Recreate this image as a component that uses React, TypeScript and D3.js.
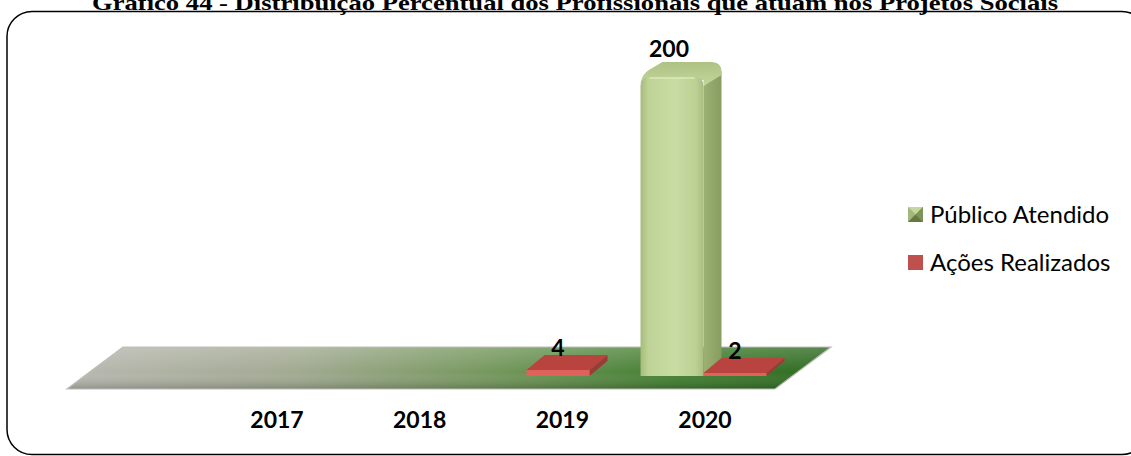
import React, { useEffect } from "react";
import * as d3 from "d3";

const categories = ["2017", "2018", "2019", "2020"];
const seriesNames = ["Público Atendido", "Ações Realizados"];
const publicoAtendido = [0, 0, 0, 200];
const acoesRealizados = [0, 0, 4, 2];
const titleText =
  "Gráfico 44 - Distribuição Percentual dos Profissionais que atuam nos Projetos Sociais";

const W = 1131;
const H = 456;

function roundedTopFront(x0: number, x1: number, yTop: number, yBot: number, r: number) {
  const p = d3.path();
  p.moveTo(x0, yBot);
  p.lineTo(x0, yTop + r);
  p.quadraticCurveTo(x0, yTop, x0 + r, yTop);
  p.lineTo(x1 - r, yTop);
  p.quadraticCurveTo(x1, yTop, x1, yTop + r);
  p.lineTo(x1, yBot);
  p.closePath();
  return p.toString();
}

export default function App() {
  useEffect(() => {
    document.body.style.margin = "0";
  }, []);

  const floorX0 = 67;
  const floorX1 = 775;
  const floorFrontY = 389;
  const floorDx = 56;
  const floorDy = 42;

  const x = d3.scaleBand<string>().domain(categories).range([floorX0, floorX1]);
  const sub = d3
    .scaleBand<string>()
    .domain(seriesNames)
    .range([0, x.bandwidth()])
    .paddingOuter(0.405);
  const y = d3.scaleLinear().domain([0, 200]).range([376, 77]);
  const labelX = d3.scalePoint<string>().domain(categories).range([277, 705]);

  const frontShift = 17;
  const bdx = 18;
  const bdy = 15;

  const floorPts = [
    [floorX0, floorFrontY],
    [floorX1, floorFrontY],
    [floorX1 + floorDx, floorFrontY - floorDy],
    [floorX0 + floorDx, floorFrontY - floorDy],
  ];
  const floorPath = d3.line()(floorPts as [number, number][]) + "Z";

  const greenBars = categories
    .map((c, i) => ({ c, v: publicoAtendido[i] }))
    .filter((d) => d.v > 0);
  const redBars = categories
    .map((c, i) => ({ c, v: acoesRealizados[i] }))
    .filter((d) => d.v > 0);

  return (
    <svg
      width={W}
      height={H}
      style={{ position: "absolute", left: 0, top: 0, background: "#fff" }}
    >
      <defs>
        <linearGradient id="floorH" x1="0" x2="1" y1="0" y2="0">
          <stop offset="0%" stopColor="#b8b8b0" />
          <stop offset="30%" stopColor="#a2aa92" />
          <stop offset="55%" stopColor="#76985e" />
          <stop offset="80%" stopColor="#427f31" />
          <stop offset="100%" stopColor="#2f6b22" />
        </linearGradient>
        <linearGradient id="floorV" x1="0" x2="0" y1="0" y2="1">
          <stop offset="0%" stopColor="#ffffff" stopOpacity="0.2" />
          <stop offset="60%" stopColor="#ffffff" stopOpacity="0" />
          <stop offset="100%" stopColor="#000000" stopOpacity="0.2" />
        </linearGradient>
        <linearGradient id="greenFront" x1="0" x2="1" y1="0" y2="0">
          <stop offset="0%" stopColor="#a7bb7b" />
          <stop offset="12%" stopColor="#bfd296" />
          <stop offset="55%" stopColor="#c9dca3" />
          <stop offset="88%" stopColor="#bcd093" />
          <stop offset="100%" stopColor="#a9bd80" />
        </linearGradient>
        <linearGradient id="greenSide" x1="0" x2="1" y1="0" y2="0">
          <stop offset="0%" stopColor="#9cb173" />
          <stop offset="100%" stopColor="#879c60" />
        </linearGradient>
        <linearGradient id="greenTop" x1="0" x2="0" y1="0" y2="1">
          <stop offset="0%" stopColor="#aec284" />
          <stop offset="100%" stopColor="#c3d69c" />
        </linearGradient>
        <linearGradient id="legGreen" x1="0" x2="1" y1="0" y2="1">
          <stop offset="0%" stopColor="#c4d79d" />
          <stop offset="100%" stopColor="#6f8450" />
        </linearGradient>
      </defs>

      {/* title */}
      <text
        x={575}
        y={10}
        textAnchor="middle"
        fontFamily="'Liberation Serif', 'Times New Roman', serif"
        fontWeight="bold"
        fontSize={22}
        textLength={966}
        lengthAdjust="spacingAndGlyphs"
        fill="#000"
      >
        {titleText}
      </text>

      {/* frame */}
      <rect
        x={7}
        y={11.5}
        width={1140}
        height={443}
        rx={25}
        ry={25}
        fill="none"
        stroke="#000"
        strokeWidth={1.5}
      />

      {/* floor */}
      <path d={floorPath} fill="url(#floorH)" />
      <path d={floorPath} fill="url(#floorV)" stroke="#bdbdb8" strokeWidth={1.2} />

      {/* green bars (Público Atendido) */}
      {greenBars.map((d) => {
        const x0 = (x(d.c) as number) + (sub(seriesNames[0]) as number) + frontShift;
        const x1 = x0 + sub.bandwidth();
        const yT = y(d.v);
        const yB = y(0);
        const r = 9;
        const side = d3.path();
        side.moveTo(x1, yB);
        side.lineTo(x1, yT + r);
        side.lineTo(x1 + bdx, yT - bdy + r);
        side.lineTo(x1 + bdx, yB - bdy);
        side.closePath();
        const top = d3.path();
        top.moveTo(x0, yT + 6);
        top.quadraticCurveTo(x0 + 2, yT - 4, x0 + 10, yT - 8);
        top.lineTo(x0 + bdx + 4, yT - bdy);
        top.lineTo(x1 + bdx - 10, yT - bdy);
        top.quadraticCurveTo(x1 + bdx, yT - bdy, x1 + bdx, yT - bdy + 10);
        top.lineTo(x1 + bdx, yT - bdy + r + 4);
        top.lineTo(x1, yT + r);
        top.lineTo(x1, yT + 3);
        top.closePath();
        return (
          <g key={"g" + d.c}>
            <path d={side.toString()} fill="url(#greenSide)" />
            <path d={top.toString()} fill="url(#greenTop)" />
            <path d={roundedTopFront(x0, x1, yT, yB, r)} fill="url(#greenFront)" />
            <path
              d={`M${x0 + r},${yT + 1}L${x1 - r},${yT + 1}`}
              stroke="#d8e8b8"
              strokeWidth={1.5}
              fill="none"
            />
            <text
              x={(x0 + x1) / 2 - 3}
              y={yT - bdy - 5}
              textAnchor="middle"
              fontFamily="Lato, 'Open Sans', sans-serif"
              fontWeight="bold"
              fontSize={23}
              fill="#000"
            >
              {d.v}
            </text>
          </g>
        );
      })}

      {/* red bars (Ações Realizados) */}
      {redBars.map((d) => {
        const x0 = (x(d.c) as number) + (sub(seriesNames[1]) as number) + frontShift;
        const x1 = x0 + sub.bandwidth();
        const yT = y(d.v);
        const yB = y(0);
        const top = d3.line()([
          [x0, yT],
          [x1, yT],
          [x1 + bdx, yT - bdy],
          [x0 + bdx, yT - bdy],
        ] as [number, number][]) + "Z";
        const side = d3.line()([
          [x1, yT],
          [x1 + bdx, yT - bdy],
          [x1 + bdx, yB - bdy],
          [x1, yB],
        ] as [number, number][]) + "Z";
        return (
          <g key={"r" + d.c}>
            <path d={side} fill="#9c3a37" />
            <path d={top} fill="#b9443f" />
            <rect x={x0} y={yT} width={x1 - x0} height={yB - yT} fill="#e0625c" />
            <text
              x={(x0 + x1) / 2}
              y={yT - bdy + 1}
              textAnchor="middle"
              fontFamily="Lato, 'Open Sans', sans-serif"
              fontWeight="bold"
              fontSize={23}
              fill="#000"
            >
              {d.v}
            </text>
          </g>
        );
      })}

      {/* category labels */}
      {categories.map((c) => (
        <text
          key={c}
          x={labelX(c)}
          y={428}
          textAnchor="middle"
          fontFamily="Lato, 'Open Sans', sans-serif"
          fontWeight="bold"
          fontSize={23}
          fill="#000"
        >
          {c}
        </text>
      ))}

      {/* legend */}
      <g>
        <g transform="translate(908,207)">
          <rect width={15} height={15} fill="url(#legGreen)" />
          <path d="M0,0L15,0L7.5,7.5Z" fill="#c5d79f" />
          <path d="M0,0L7.5,7.5L0,15Z" fill="#a2b77c" />
          <path d="M15,0L15,15L7.5,7.5Z" fill="#7d9357" />
          <path d="M0,15L15,15L7.5,7.5Z" fill="#66793f" />
        </g>
        <text
          x={930}
          y={223}
          fontFamily="Lato, 'Open Sans', sans-serif"
          fontSize={24}
          fill="#000"
        >
          {seriesNames[0]}
        </text>
        <rect x={908} y={255} width={15} height={15} fill="#c0504d" />
        <text
          x={930}
          y={271}
          fontFamily="Lato, 'Open Sans', sans-serif"
          fontSize={24}
          fill="#000"
        >
          {seriesNames[1]}
        </text>
      </g>
    </svg>
  );
}
